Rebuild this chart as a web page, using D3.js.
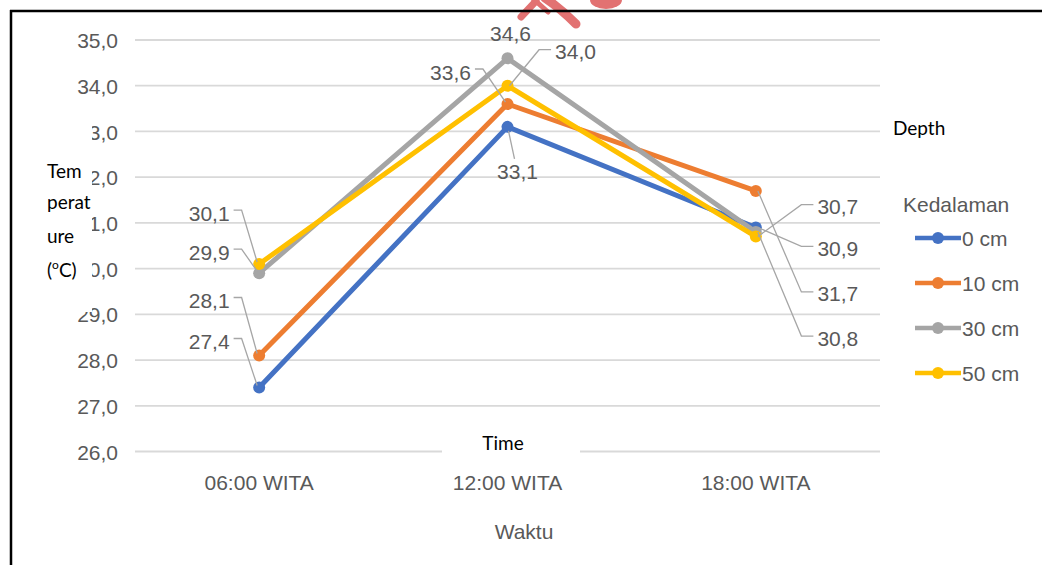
<!DOCTYPE html>
<html>
<head>
<meta charset="utf-8">
<script src="https://cdn.jsdelivr.net/npm/d3@7"></script>
<style>
  html, body { margin: 0; padding: 0; background: #fff; }
  svg { display: block; }
</style>
</head>
<body>
<svg id="chart" width="1042" height="565"></svg>
<script>
// Water temperature at several depths, measured three times a day
const categories = ["06:00 WITA", "12:00 WITA", "18:00 WITA"];
const seriesNames = ["0 cm", "10 cm", "30 cm", "50 cm"];
const depth0cm  = [27.4, 33.1, 30.9];
const depth10cm = [28.1, 33.6, 31.7];
const depth30cm = [29.9, 34.6, 30.8];
const depth50cm = [30.1, 34.0, 30.7];
const yTickValues = [26, 27, 28, 29, 30, 31, 32, 33, 34, 35];
const legendTitle = "Kedalaman";
const xAxisTitle = "Waktu";

const seriesValues = [depth0cm, depth10cm, depth30cm, depth50cm];
const colors = ["#4472C4", "#ED7D31", "#A5A5A5", "#FFC000"];

const svg = d3.select("#chart");
const W = 1042, H = 565;

const x = d3.scaleBand().domain(categories).range([135, 880]);
const y = d3.scaleLinear().domain([26, 35]).range([451.5, 40]);
const cx = c => x(c) + x.bandwidth() / 2;

const fmt = v => d3.format(".1f")(v).replace(".", ",");
const textGray = "#595959";
const font = "'Liberation Sans', Arial, sans-serif";
const fs = 21;

// red stamp fragment at the top edge
const stamp = svg.append("g").attr("fill", "none").attr("stroke", "#e27272")
  .attr("stroke-linecap", "round");
stamp.append("path").attr("d", "M521,17 L536,1").attr("stroke-width", 7);
stamp.append("path").attr("d", "M545,-2 Q560,8 576,24").attr("stroke-width", 9);
stamp.append("path").attr("d", "M530,-4 L548,12").attr("stroke-width", 5);
svg.append("ellipse").attr("cx", 606).attr("cy", 0).attr("rx", 16).attr("ry", 9)
  .attr("fill", "#e27272");

// horizontal gridlines
svg.append("g").selectAll("line").data(yTickValues).join("line")
  .attr("x1", 135).attr("x2", 880)
  .attr("y1", d => y(d)).attr("y2", d => y(d))
  .attr("stroke", "#d9d9d9").attr("stroke-width", 1.8);

// y axis tick labels
const yAxis = d3.axisLeft(y).tickValues(yTickValues).tickFormat(fmt).tickSize(0).tickPadding(0);
const yg = svg.append("g").attr("transform", "translate(118,0)").call(yAxis);
yg.select(".domain").remove();
yg.selectAll("text").attr("font-family", font).attr("font-size", fs)
  .attr("fill", textGray).attr("dy", "0.36em");

// x axis tick labels
const xAxis = d3.axisBottom(x).tickSize(0).tickPadding(0);
const xg = svg.append("g").attr("transform", "translate(0,482)").call(xAxis);
xg.select(".domain").remove();
xg.selectAll("text").attr("font-family", font).attr("font-size", fs)
  .attr("fill", textGray).attr("dy", "0.36em");

// x axis title
svg.append("text").attr("x", 524).attr("y", 539).attr("text-anchor", "middle")
  .attr("font-family", font).attr("font-size", fs).attr("fill", textGray)
  .text(xAxisTitle);

// lines and markers
const line = d3.line().x((d, i) => cx(categories[i])).y(d => y(d));
seriesValues.forEach((vals, s) => {
  svg.append("path").datum(vals).attr("d", line)
    .attr("fill", "none").attr("stroke", colors[s]).attr("stroke-width", 5)
    .attr("stroke-linejoin", "round");
  svg.append("g").selectAll("circle").data(vals).join("circle")
    .attr("cx", (d, i) => cx(categories[i])).attr("cy", d => y(d))
    .attr("r", 6).attr("fill", colors[s]);
});

// data label placement: offset of the label centre from its point
const labelPlacement = [
  { s: 3, c: 0, dx: -50, dy: -51, side: "left" },
  { s: 2, c: 0, dx: -50, dy: -21, side: "left" },
  { s: 1, c: 0, dx: -50, dy: -55, side: "left" },
  { s: 0, c: 0, dx: -50, dy: -46, side: "left" },
  { s: 2, c: 1, dx: 3,   dy: -25, side: "none" },
  { s: 1, c: 1, dx: -57, dy: -32, side: "left" },
  { s: 3, c: 1, dx: 68,  dy: -34, side: "right" },
  { s: 0, c: 1, dx: 10,  dy: 45,  side: "below" },
  { s: 3, c: 2, dx: 82,  dy: -30, side: "right" },
  { s: 0, c: 2, dx: 82,  dy: 21,  side: "right" },
  { s: 1, c: 2, dx: 82,  dy: 103, side: "right" },
  { s: 2, c: 2, dx: 82,  dy: 106, side: "right" }
];

const leaders = svg.append("g").attr("fill", "none").attr("stroke", "#a6a6a6")
  .attr("stroke-width", 1.3);
const labels = svg.append("g");
labelPlacement.forEach(p => {
  const v = seriesValues[p.s][p.c];
  const px = cx(categories[p.c]), py = y(v);
  const lx = px + p.dx, ly = py + p.dy;
  const t = labels.append("text").attr("x", lx).attr("y", ly)
    .attr("text-anchor", "middle").attr("dy", "0.36em")
    .attr("font-family", font).attr("font-size", fs).attr("fill", textGray)
    .text(fmt(v));
  const w = t.node().getComputedTextLength();
  let pts = null;
  if (p.side === "left") {
    const sx = lx + w / 2 + 4;
    pts = [[sx, ly - 3], [sx + 8, ly - 3], [px - 2, py - 2]];
  } else if (p.side === "right") {
    const sx = lx - w / 2 - 4;
    pts = [[sx, ly - 2], [sx - 12, ly - 2], [px + 2, py]];
  } else if (p.side === "below") {
    pts = [[lx - 3, ly - 13], [px + 1, py + 4]];
  }
  if (pts) leaders.append("path").attr("d", d3.line()(pts));
});

// legend
const lg = svg.append("g");
lg.append("text").attr("x", 903).attr("y", 212)
  .attr("font-family", font).attr("font-size", fs).attr("fill", textGray)
  .text(legendTitle);
seriesNames.forEach((name, i) => {
  const ly = 238 + i * 45;
  lg.append("line").attr("x1", 915).attr("x2", 961).attr("y1", ly).attr("y2", ly)
    .attr("stroke", colors[i]).attr("stroke-width", 4.5);
  lg.append("circle").attr("cx", 938).attr("cy", ly).attr("r", 6).attr("fill", colors[i]);
  lg.append("text").attr("x", 962).attr("y", ly).attr("dy", "0.36em")
    .attr("font-family", font).attr("font-size", fs).attr("fill", textGray)
    .text(name);
});

// English annotations pasted over the chart
const noteFont = "Lato, 'Open Sans', sans-serif";
svg.append("rect").attr("x", 40).attr("y", 118).attr("width", 52).attr("height", 194).attr("fill", "#fff");
const yNote = svg.append("text").attr("font-family", noteFont).attr("font-size", 19).attr("fill", "#000");
yNote.append("tspan").attr("x", 47).attr("y", 178).text("Tem");
yNote.append("tspan").attr("x", 47).attr("y", 209).text("perat");
yNote.append("tspan").attr("x", 47).attr("y", 243).text("ure");
const degC = svg.append("text").attr("x", 47).attr("y", 277)
  .attr("font-family", noteFont).attr("font-size", 19).attr("fill", "#000");
degC.append("tspan").text("(");
degC.append("tspan").attr("font-size", 12).attr("dy", -8).text("o");
degC.append("tspan").attr("dy", 8).text("C)");

svg.append("rect").attr("x", 442).attr("y", 427).attr("width", 138).attr("height", 34).attr("fill", "#fff");
svg.append("text").attr("x", 503).attr("y", 450).attr("text-anchor", "middle")
  .attr("font-family", noteFont).attr("font-size", 19).attr("fill", "#000").text("Time");

svg.append("text").attr("x", 893).attr("y", 135)
  .attr("font-family", noteFont).attr("font-size", 19).attr("fill", "#000").text("Depth");

// page frame
svg.append("line").attr("x1", 10).attr("x2", W).attr("y1", 11).attr("y2", 11)
  .attr("stroke", "#000").attr("stroke-width", 2.5);
svg.append("line").attr("x1", 11).attr("x2", 11).attr("y1", 10).attr("y2", H)
  .attr("stroke", "#000").attr("stroke-width", 2.5);
</script>
</body>
</html>
